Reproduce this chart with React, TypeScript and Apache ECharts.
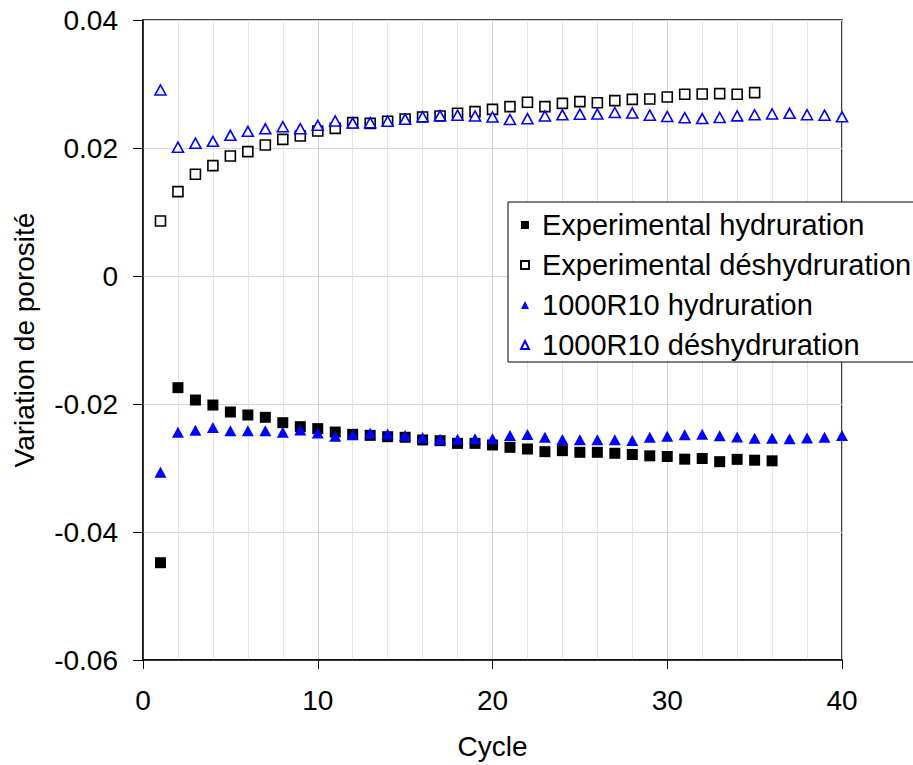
import React, { useEffect, useRef } from "react";
import * as echarts from "echarts";

const expHydCycles = [1,2,3,4,5,6,7,8,9,10,11,12,13,14,15,16,17,18,19,20,21,22,23,24,25,26,27,28,29,30,31,32,33,34,35,36];
const expHyd = [-0.0448,-0.01745,-0.01938,-0.02016,-0.02125,-0.02172,-0.02208,-0.02292,-0.02354,-0.02385,-0.02438,-0.02474,-0.0249,-0.02511,-0.0252,-0.02562,-0.02573,-0.02615,-0.02615,-0.0264,-0.02677,-0.02703,-0.02745,-0.02729,-0.02755,-0.02755,-0.0277,-0.02789,-0.0281,-0.0282,-0.02862,-0.02852,-0.02901,-0.02865,-0.02878,-0.02888];

const expDeshydCycles = [1,2,3,4,5,6,7,8,9,10,11,12,13,14,15,16,17,18,19,20,21,22,23,24,25,26,27,28,29,30,31,32,33,34,35];
const expDeshyd = [0.0086,0.01318,0.0159,0.01724,0.01875,0.01943,0.02047,0.02135,0.02188,0.02266,0.02307,0.02396,0.02385,0.02418,0.02453,0.02484,0.025,0.02542,0.02568,0.02604,0.02646,0.02714,0.02646,0.02698,0.02724,0.02708,0.0274,0.0276,0.02766,0.02797,0.02839,0.02844,0.02849,0.02839,0.02865];

const simCycles = [1,2,3,4,5,6,7,8,9,10,11,12,13,14,15,16,17,18,19,20,21,22,23,24,25,26,27,28,29,30,31,32,33,34,35,36,37,38,39,40];
const simHyd = [-0.03065,-0.0244,-0.0241,-0.02367,-0.02419,-0.02419,-0.02419,-0.0244,-0.02406,-0.02453,-0.02505,-0.02482,-0.02456,-0.0247,-0.02492,-0.02523,-0.0255,-0.0255,-0.02544,-0.02544,-0.02492,-0.02477,-0.02518,-0.02555,-0.02557,-0.02557,-0.02557,-0.0257,-0.02518,-0.02503,-0.02482,-0.02471,-0.02497,-0.02516,-0.02534,-0.02534,-0.02544,-0.02531,-0.02518,-0.02492];
const simDeshyd = [0.02906,0.02013,0.02075,0.02104,0.02198,0.0226,0.023,0.02333,0.02302,0.02354,0.02422,0.0239,0.02396,0.02418,0.0245,0.0249,0.02505,0.02513,0.025,0.02484,0.02445,0.02458,0.025,0.02518,0.02529,0.0253,0.02555,0.02547,0.02513,0.02492,0.02474,0.0246,0.02477,0.02502,0.0252,0.02531,0.02542,0.0252,0.02513,0.02487];

const seriesNames = [
  "Experimental hydruration",
  "Experimental déshydruration",
  "1000R10 hydruration",
  "1000R10 déshydruration",
];

const FONT = "'Liberation Sans', Arial, sans-serif";

function pairs(xs: number[], ys: number[]) {
  return xs.map((x, i) => [x, ys[i]]);
}

export default function App() {
  const ref = useRef<HTMLDivElement>(null);
  useEffect(() => {
    if (!ref.current) return;
    const chart = echarts.init(ref.current, undefined, { renderer: "svg" });
    const option = {
      animation: false,
      backgroundColor: "#fff",
      textStyle: { fontFamily: FONT },
      grid: {
        left: 143,
        top: 20,
        width: 699,
        height: 640,
        show: true,
        borderColor: "#000",
        borderWidth: 1.5,
        backgroundColor: "transparent",
      },
      legend: {
        orient: "vertical",
        left: 508,
        top: 202,
        padding: [8, 30, 2, 12],
        itemGap: 10,
        itemWidth: 8,
        itemHeight: 8,
        itemTextGap: 5,
        borderColor: "#000",
        borderWidth: 1,
        backgroundColor: "#fff",
        textStyle: {
          fontSize: 29,
          lineHeight: 30,
          color: "#000",
          fontFamily: FONT,
          padding: [0, 0, 0, 8],
        },
        data: [
          { name: seriesNames[0], icon: "rect" },
          { name: seriesNames[1], icon: "rect" },
          { name: seriesNames[2], icon: "triangle" },
          { name: seriesNames[3], icon: "triangle" },
        ],
      },
      xAxis: {
        type: "value",
        min: 0,
        max: 40,
        interval: 10,
        name: "Cycle",
        nameLocation: "middle",
        nameGap: 72,
        nameTextStyle: { fontSize: 28, color: "#000", fontFamily: FONT },
        axisLine: { show: true, onZero: false, lineStyle: { color: "#000", width: 1.5 } },
        axisTick: { show: true, inside: false, length: 9, lineStyle: { color: "#000", width: 1 } },
        axisLabel: { fontSize: 28, color: "#000", margin: 26, fontFamily: FONT },
        splitLine: { show: true, lineStyle: { color: "#cfcfcf", width: 1 } },
        minorTick: { show: false, splitNumber: 5 },
        minorSplitLine: { show: true, lineStyle: { color: "#e4e4e4", width: 1 } },
      },
      yAxis: {
        type: "value",
        min: -0.06,
        max: 0.04,
        interval: 0.02,
        name: "Variation de porosité",
        nameLocation: "middle",
        nameGap: 105,
        nameTextStyle: { fontSize: 28, color: "#000", fontFamily: FONT },
        axisLine: { show: true, onZero: false, lineStyle: { color: "#000", width: 1.5 } },
        axisTick: { show: true, inside: false, length: 10, lineStyle: { color: "#000", width: 1 } },
        axisLabel: {
          fontSize: 28,
          color: "#000",
          margin: 25,
          fontFamily: FONT,
          formatter: (v: number) => (Math.abs(v) < 1e-9 ? "0" : v.toFixed(2)),
        },
        splitLine: { show: true, lineStyle: { color: "#d4d4d4", width: 1 } },
      },
      series: [
        {
          name: seriesNames[0],
          type: "scatter",
          symbol: "rect",
          symbolSize: 11,
          itemStyle: { color: "#000", borderColor: "#000", borderWidth: 0, opacity: 1 },
          data: pairs(expHydCycles, expHyd),
        },
        {
          name: seriesNames[1],
          type: "scatter",
          symbol: "rect",
          symbolSize: 10,
          itemStyle: { color: "#fff", borderColor: "#000", borderWidth: 1.6, opacity: 1 },
          data: pairs(expDeshydCycles, expDeshyd),
        },
        {
          name: seriesNames[2],
          type: "scatter",
          symbol: "triangle",
          symbolSize: [12, 11],
          itemStyle: { color: "#0000ff", borderColor: "#0000ff", borderWidth: 0, opacity: 1 },
          data: pairs(simCycles, simHyd),
        },
        {
          name: seriesNames[3],
          type: "scatter",
          symbol: "triangle",
          symbolSize: [11, 10],
          itemStyle: { color: "#fff", borderColor: "#0000ff", borderWidth: 1.6, opacity: 1 },
          data: pairs(simCycles, simDeshyd),
        },
      ],
    };
    chart.setOption(option as any);
    return () => chart.dispose();
  }, []);
  return (
    <div
      ref={ref}
      style={{ position: "fixed", left: 0, top: 0, width: 913, height: 765, background: "#fff" }}
    />
  );
}
